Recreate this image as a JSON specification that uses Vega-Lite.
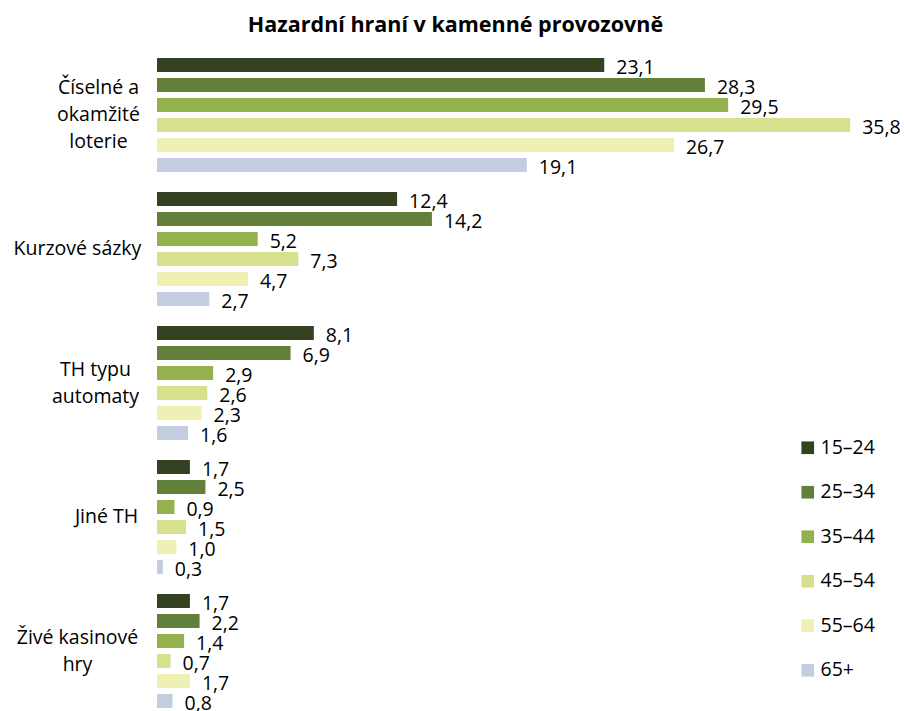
{
  "$schema": "https://vega.github.io/schema/vega-lite/v6.json",
  "width": 697,
  "height": 670,
  "autosize": {"type": "none"},
  "padding": {"left": 157, "top": 48, "right": 50, "bottom": 0},
  "background": "white",
  "title": {
    "text": "Hazardní hraní v kamenné provozovně",
    "font": "Open Sans",
    "fontSize": 21.5,
    "fontWeight": "bold",
    "color": "#000000",
    "anchor": "middle",
    "dx": -50,
    "offset": 12
  },
  "config": {
    "view": {"stroke": null},
    "font": "Open Sans",
    "locale": {"number": {"decimal": ",", "thousands": " ", "grouping": [3], "currency": ["", " Kč"]}}
  },
  "data": {
    "values": [
      {"kategorie": "Číselné a okamžité loterie", "vek": "15–24", "podil": 23.1},
      {"kategorie": "Číselné a okamžité loterie", "vek": "25–34", "podil": 28.3},
      {"kategorie": "Číselné a okamžité loterie", "vek": "35–44", "podil": 29.5},
      {"kategorie": "Číselné a okamžité loterie", "vek": "45–54", "podil": 35.8},
      {"kategorie": "Číselné a okamžité loterie", "vek": "55–64", "podil": 26.7},
      {"kategorie": "Číselné a okamžité loterie", "vek": "65+", "podil": 19.1},
      {"kategorie": "Kurzové sázky", "vek": "15–24", "podil": 12.4},
      {"kategorie": "Kurzové sázky", "vek": "25–34", "podil": 14.2},
      {"kategorie": "Kurzové sázky", "vek": "35–44", "podil": 5.2},
      {"kategorie": "Kurzové sázky", "vek": "45–54", "podil": 7.3},
      {"kategorie": "Kurzové sázky", "vek": "55–64", "podil": 4.7},
      {"kategorie": "Kurzové sázky", "vek": "65+", "podil": 2.7},
      {"kategorie": "TH typu automaty", "vek": "15–24", "podil": 8.1},
      {"kategorie": "TH typu automaty", "vek": "25–34", "podil": 6.9},
      {"kategorie": "TH typu automaty", "vek": "35–44", "podil": 2.9},
      {"kategorie": "TH typu automaty", "vek": "45–54", "podil": 2.6},
      {"kategorie": "TH typu automaty", "vek": "55–64", "podil": 2.3},
      {"kategorie": "TH typu automaty", "vek": "65+", "podil": 1.6},
      {"kategorie": "Jiné TH", "vek": "15–24", "podil": 1.7},
      {"kategorie": "Jiné TH", "vek": "25–34", "podil": 2.5},
      {"kategorie": "Jiné TH", "vek": "35–44", "podil": 0.9},
      {"kategorie": "Jiné TH", "vek": "45–54", "podil": 1.5},
      {"kategorie": "Jiné TH", "vek": "55–64", "podil": 1.0},
      {"kategorie": "Jiné TH", "vek": "65+", "podil": 0.3},
      {"kategorie": "Živé kasinové hry", "vek": "15–24", "podil": 1.7},
      {"kategorie": "Živé kasinové hry", "vek": "25–34", "podil": 2.2},
      {"kategorie": "Živé kasinové hry", "vek": "35–44", "podil": 1.4},
      {"kategorie": "Živé kasinové hry", "vek": "45–54", "podil": 0.7},
      {"kategorie": "Živé kasinové hry", "vek": "55–64", "podil": 1.7},
      {"kategorie": "Živé kasinové hry", "vek": "65+", "podil": 0.8}
    ]
  },
  "encoding": {
    "y": {
      "field": "kategorie",
      "type": "nominal",
      "sort": ["Číselné a okamžité loterie", "Kurzové sázky", "TH typu automaty", "Jiné TH", "Živé kasinové hry"],
      "scale": {"paddingInner": 0, "paddingOuter": 0},
      "axis": {
        "title": null,
        "domain": false,
        "ticks": false,
        "labelFont": "Open Sans",
        "labelFontSize": 19.5,
        "labelColor": "#000000",
        "labelAlign": "center",
        "labelBaseline": "middle",
        "labelPadding": {
          "condition": [
            {"test": "datum.value == 'Číselné a okamžité loterie'", "value": 59},
            {"test": "datum.value == 'Kurzové sázky'", "value": 80},
            {"test": "datum.value == 'TH typu automaty'", "value": 62},
            {"test": "datum.value == 'Jiné TH'", "value": 51},
            {"test": "datum.value == 'Živé kasinové hry'", "value": 80}
          ],
          "value": 72
        },
        "labelLineHeight": 27,
        "labelLimit": 300,
        "labelOffset": {
          "condition": [
            {"test": "datum.value == 'Číselné a okamžité loterie'", "value": -27},
            {"test": "datum.value == 'TH typu automaty' || datum.value == 'Živé kasinové hry'", "value": -13.5}
          ],
          "value": 0
        },
        "labelExpr": "datum.value == 'Číselné a okamžité loterie' ? ['Číselné a', 'okamžité', 'loterie'] : datum.value == 'TH typu automaty' ? ['TH typu', 'automaty'] : datum.value == 'Živé kasinové hry' ? ['Živé kasinové', 'hry'] : datum.value"
      }
    },
    "yOffset": {
      "field": "vek",
      "type": "nominal",
      "sort": ["15–24", "25–34", "35–44", "45–54", "55–64", "65+"],
      "scale": {"paddingInner": 0.3, "paddingOuter": 0.5}
    },
    "x": {
      "field": "podil",
      "type": "quantitative",
      "scale": {"domain": [0, 36]},
      "axis": null
    }
  },
  "layer": [
    {
      "mark": {"type": "bar"},
      "encoding": {
        "color": {
          "field": "vek",
          "type": "nominal",
          "sort": ["15–24", "25–34", "35–44", "45–54", "55–64", "65+"],
          "scale": {
            "domain": ["15–24", "25–34", "35–44", "45–54", "55–64", "65+"],
            "range": ["#344221", "#62803a", "#93b14c", "#d7e08d", "#eff0b4", "#c3cde0"]
          },
          "legend": {
            "title": null,
            "orient": "none",
            "legendX": 641,
            "legendY": 390,
            "symbolType": "square",
            "symbolSize": 160,
            "symbolStrokeWidth": 0,
            "labelFont": "Open Sans",
            "labelFontSize": 19.5,
            "labelColor": "#000000",
            "labelOffset": 3,
            "rowPadding": 23.5
          }
        }
      }
    },
    {
      "mark": {"type": "text", "align": "left", "baseline": "middle", "dx": 12, "dy": 3, "fontSize": 19.5, "font": "Open Sans", "color": "#000000"},
      "encoding": {
        "text": {"field": "podil", "type": "quantitative", "format": ".1f"}
      }
    }
  ]
}
